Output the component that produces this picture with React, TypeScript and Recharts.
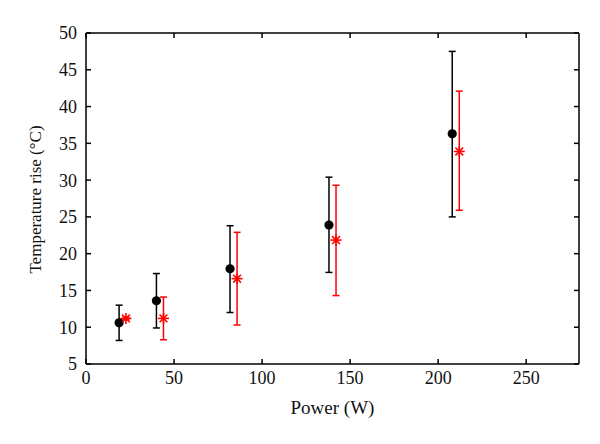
import React from 'react';
import { ScatterChart, Scatter, XAxis, YAxis, ErrorBar, Label } from 'recharts';

const blackPower = [18.8, 40, 81.8, 138, 208];
const blackRise = [10.6, 13.6, 17.95, 23.9, 36.3];
const blackLow = [8.2, 9.9, 12.0, 17.45, 25.0];
const blackHigh = [13.0, 17.3, 23.8, 30.4, 47.5];

const redPower = [22.7, 44, 85.8, 142, 212];
const redRise = [11.2, 11.2, 16.6, 21.85, 33.9];
const redLow = [11.0, 8.3, 10.3, 14.3, 25.9];
const redHigh = [11.4, 14.1, 22.9, 29.3, 42.1];

const xTicks = [0, 50, 100, 150, 200, 250];
const yTicks = [5, 10, 15, 20, 25, 30, 35, 40, 45, 50];

const build = (p: number[], r: number[], lo: number[], hi: number[]) =>
  p.map((x, i) => ({ x, y: r[i], err: [r[i] - lo[i], hi[i] - r[i]] }));

const blackData = build(blackPower, blackRise, blackLow, blackHigh);
const redData = build(redPower, redRise, redLow, redHigh);

const FONT = '"Liberation Serif", "Times New Roman", serif';

const Dot = (p: any) => <circle cx={p.cx} cy={p.cy} r={4.6} fill="#000" />;
const Star = (p: any) => {
  const r = 5.5;
  const lines = [0, 45, 90, 135].map((a) => {
    const rad = (a * Math.PI) / 180;
    const dx = r * Math.cos(rad);
    const dy = r * Math.sin(rad);
    return <line key={a} x1={p.cx - dx} y1={p.cy - dy} x2={p.cx + dx} y2={p.cy + dy} stroke="#ff0000" strokeWidth={1.6} />;
  });
  return <g>{lines}</g>;
};

const BlankTick = () => <g />;

export default function App() {
  return (
    <div style={{ position: 'absolute', left: 0, top: 0, width: 600, height: 444, background: '#fff' }}>
      <ScatterChart width={600} height={444} margin={{ top: 32, right: 20, bottom: 0, left: 0 }}>
        <XAxis
          xAxisId="b"
          type="number"
          dataKey="x"
          domain={[0, 280]}
          ticks={xTicks}
          orientation="bottom"
          height={80}
          tickSize={-5}
          tickMargin={12}
          stroke="#000"
          strokeWidth={1.5}
          tick={{ fill: '#111', fontSize: 18, fontFamily: FONT }}
          allowDataOverflow
        >
          <Label value="Power (W)" position="insideTop" offset={37} style={{ fill: '#111', fontSize: 19, fontFamily: FONT }} />
        </XAxis>
        <XAxis
          xAxisId="t"
          type="number"
          dataKey="x"
          domain={[0, 280]}
          ticks={xTicks}
          orientation="top"
          height={1}
          tickSize={-5}
          tick={<BlankTick />}
          stroke="#000"
          strokeWidth={1.5}
          allowDataOverflow
        />
        <YAxis
          yAxisId="l"
          type="number"
          dataKey="y"
          domain={[5, 50]}
          ticks={yTicks}
          orientation="left"
          width={86}
          tickSize={-5}
          tickMargin={14}
          stroke="#000"
          strokeWidth={1.5}
          tick={{ fill: '#111', fontSize: 18, fontFamily: FONT }}
          allowDataOverflow
        >
          <Label
            content={(props: any) => {
              const vb = props.viewBox || { x: 0, y: 33, width: 86, height: 331 };
              const cx = vb.x + 35;
              const cy = vb.y + vb.height / 2 + 1;
              return (
                <text
                  x={cx}
                  y={cy}
                  transform={`rotate(-90 ${cx} ${cy})`}
                  textAnchor="middle"
                  dominantBaseline="central"
                  style={{ fill: '#111', fontSize: 17, fontFamily: FONT }}
                >
                  Temperature rise (°C)
                </text>
              );
            }}
          />
        </YAxis>
        <YAxis
          yAxisId="r"
          type="number"
          dataKey="y"
          domain={[5, 50]}
          ticks={yTicks}
          orientation="right"
          width={1}
          tickSize={-5}
          tick={<BlankTick />}
          stroke="#000"
          strokeWidth={1.5}
          allowDataOverflow
        />
        <Scatter xAxisId="b" yAxisId="l" data={blackData} shape={<Dot />} isAnimationActive={false}>
          <ErrorBar dataKey="err" direction="y" width={3.5} stroke="#000" strokeWidth={1.5} isAnimationActive={false} />
        </Scatter>
        <Scatter xAxisId="b" yAxisId="l" data={redData} shape={<Star />} isAnimationActive={false}>
          <ErrorBar dataKey="err" direction="y" width={3.5} stroke="#ff0000" strokeWidth={1.5} isAnimationActive={false} />
        </Scatter>
      </ScatterChart>
    </div>
  );
}
